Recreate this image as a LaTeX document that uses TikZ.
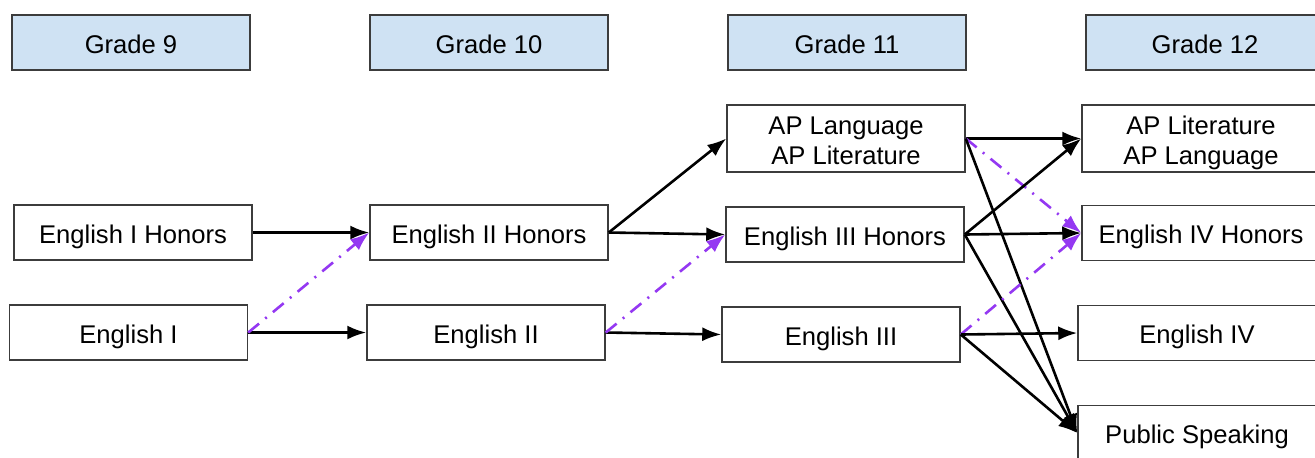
\documentclass[tikz,border=0pt]{standalone}
\usepackage{fontspec}
\setmainfont{Liberation Sans}
\usetikzlibrary{arrows.meta}
\definecolor{gradeblue}{RGB}{207,226,243}
\definecolor{boxline}{RGB}{60,60,60}
\definecolor{optpurple}{RGB}{148,56,242}
\begin{document}
\begin{tikzpicture}[x=0.5pt,y=-0.5pt,
    course/.style={draw=boxline,line width=0.75pt,fill=white,minimum width=119pt,minimum height=27.5pt,inner sep=0pt,align=center,text height=10.7pt,text depth=0pt,font=\fontsize{12.8}{15}\selectfont},
    twoline/.style={course,minimum height=33.5pt,text height=25.7pt},
    grade/.style={course,fill=gradeblue},
    req/.style={-{Latex[length=9.5pt,width=7pt]},line width=1.3pt,black},
    opt/.style={-{Latex[length=9.5pt,width=7pt]},line width=1.3pt,optpurple,dash pattern=on 7pt off 4pt on 1pt off 4pt}]
  \clip (0,0) rectangle (1315,457);
  \fill[white] (0,0) rectangle (1315,457);
  \node[grade] (g9) at (131,42.5) {Grade 9};
  \node[grade] (g10) at (489,42.5) {Grade 10};
  \node[grade] (g11) at (847,42.5) {Grade 11};
  \node[grade] (g12) at (1205,42.5) {Grade 12};
  \node[course] (eng1h) at (133,232.5) {English I Honors};
  \node[course] (eng1) at (128.5,332.5) {English I};
  \node[course] (eng2h) at (489,232.5) {English II Honors};
  \node[course] (eng2) at (486,332.5) {English II};
  \node[twoline] (ap11) at (846,138.5) {AP Language\\AP Literature};
  \node[course] (eng3h) at (845,234.5) {English III Honors};
  \node[course] (eng3) at (841,334.5) {English III};
  \node[twoline] (ap12) at (1201,138.5) {AP Literature\\AP Language};
  \node[course] (eng4h) at (1201,233) {English IV Honors};
  \node[course] (eng4) at (1197,333) {English IV};
  \node[course] (speak) at (1197,433) {Public Speaking};
  % grade 9 to 10
  \draw[req] (eng1h.east) -- (eng2h.west);
  \draw[req] (eng1.east) -- (eng2.west);
  \draw[opt] (eng1.east) -- (eng2h.west);
  % grade 10 to 11
  \draw[req] (eng2h.east) -- (ap11.west);
  \draw[req] (eng2h.east) -- (eng3h.west);
  \draw[req] (eng2.east) -- (eng3.west);
  \draw[opt] (eng2.east) -- (eng3h.west);
  % grade 11 to 12
  \draw[req] (ap11.east) -- (ap12.west);
  \draw[opt] (ap11.east) -- (eng4h.west);
  \draw[req] (ap11.east) -- (speak.west);
  \draw[req] (eng3h.east) -- (ap12.west);
  \draw[req] (eng3h.east) -- (eng4h.west);
  \draw[req] (eng3h.east) -- (speak.west);
  \draw[opt] (eng3.east) -- (eng4h.west);
  \draw[req] (eng3.east) -- (eng4.west);
  \draw[req] (eng3.east) -- (speak.west);
\end{tikzpicture}
\end{document}
